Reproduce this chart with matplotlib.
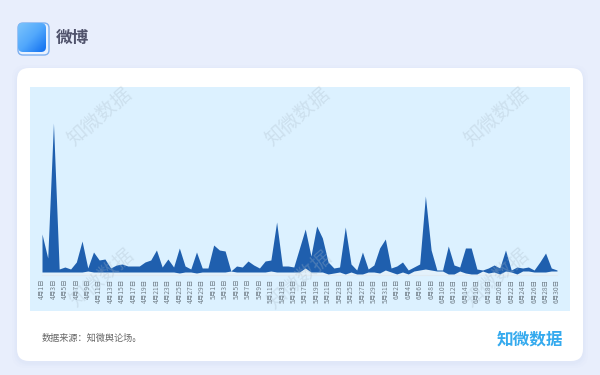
import numpy as np
import pandas as pd
from matplotlib import pyplot as plt
from matplotlib.patches import FancyBboxPatch
from matplotlib.colors import LinearSegmentedColormap

plt.rcParams['font.family'] = ['Noto Sans CJK SC', 'DejaVu Sans']

# datos (altura en px sobre el eje)
dates = pd.date_range('2023-04-01', periods=91)
labels = [f"{d.month}月{d.day}日" for d in dates]

total = [41, 17, 152, 6, 8, 6, 13, 34, 7, 23, 15, 16, 7, 10, 11, 9, 9, 9, 13, 15,
         25, 8, 16, 8, 27, 9, 6, 23, 7, 7, 30, 25, 24, 4, 9, 8, 14, 10, 7, 14,
         15, 53, 9, 9, 8, 27, 46, 19, 49, 37, 13, 7, 8, 48, 11, 5, 23, 6, 10, 27,
         36, 7, 9, 13, 5, 8, 11, 79, 25, 5, 5, 29, 10, 8, 27, 27, 6, 5, 7, 10,
         7, 25, 5, 8, 7, 8, 5, 13, 22, 7, 5]
lower = [3, 3, 3, 3, 3, 3, 3, 3, 4, 3, 3, 3, 3, 3, 3, 3, 3, 3, 3, 3,
         3, 3, 3, 3, 2, 3, 3, 2, 3, 3, 3, 3, 3, 4, 3, 3, 3, 3, 3, 3,
         4, 3, 3, 3, 3, 3, 7, 3, 3, 3, 1, 2, 3, 1, 3, 1, 1, 3, 3, 2,
         5, 3, 1, 3, 1, 4, 5, 6, 5, 4, 4, 1, 1, 4, 2, 1, 1, 4, 2, 3,
         1, 4, 3, 1, 4, 4, 3, 3, 3, 4, 4]

x = np.arange(len(total))

fig = plt.figure(figsize=(6, 3.75), dpi=100, facecolor='#e8eefc')

# capa de fondo en pixeles
bg = fig.add_axes([0, 0, 1, 1])
bg.set_xlim(0, 600)
bg.set_ylim(375, 0)
bg.axis('off')

for off, a in [(5, 0.04), (3, 0.05), (1.5, 0.06)]:
    bg.add_patch(FancyBboxPatch((17 - off, 68 - off + 2), 566 + 2 * off, 293 + 2 * off,
                                boxstyle="round,pad=0,rounding_size=14", fc='#b8c6e8', ec='none', alpha=a))
bg.add_patch(FancyBboxPatch((17, 68), 566, 293, boxstyle="round,pad=0,rounding_size=12", fc='white', ec='none'))
bg.add_patch(plt.Rectangle((30, 87), 540, 224, fc='#dcf1ff', ec='none'))

# icono
bg.add_patch(FancyBboxPatch((18, 23), 31, 32, boxstyle="round,pad=0,rounding_size=5",
                            fc='#eaf2fe', ec='#7fb0f0', lw=1))
grad = np.linspace(0, 1, 64)
gx, gy = np.meshgrid(grad, grad)
cmap_icon = LinearSegmentedColormap.from_list('ic', ['#7cc4fb', '#52a8fc', '#0f6ef0'])
img = bg.imshow(gx + gy, extent=(18, 46, 52, 23), cmap=cmap_icon, aspect='auto', zorder=3)
clip = FancyBboxPatch((18, 23), 28, 29, boxstyle="round,pad=0,rounding_size=5", fc='none', ec='none',
                      transform=bg.transData)
bg.add_patch(clip)
img.set_clip_path(clip)
bg.set_xlim(0, 600)
bg.set_ylim(375, 0)

bg.text(55.5, 38, "微博", fontsize=12, color='#50536c', fontweight='bold', va='center', ha='left')
bg.text(42, 338, "数据来源：知微舆论场。", fontsize=6.6, color='#666666', va='center', ha='left')
bg.text(530, 339, "知微数据", fontsize=12, color='#35aaee', fontweight='bold', va='center', ha='center')

# grafico
ax = fig.add_axes([30 / 600, 1 - 275 / 375, 540 / 600, 188 / 375])
ax.patch.set_alpha(0)
ax.set_xlim(-12 / 5.72, 90 + 13 / 5.72)
ax.set_ylim(0, 188)
ax.fill_between(x, 0, lower, color='#e3f1fb', lw=0)
ax.fill_between(x, lower, total, color='#1f5fae', lw=0)
ax.set_yticks([])
ax.set_xticks(x[::2])
ax.set_xticklabels(labels[::2], rotation=90, fontsize=4.8, color='#74818b')
ax.tick_params(axis='x', length=0, pad=2.5)
for s in ['top', 'left', 'right']:
    ax.spines[s].set_visible(False)
ax.spines['bottom'].set_color('#dfeaf2')
ax.spines['bottom'].set_bounds(0, 90)

# marcas de agua
for wx, wy in [(100, 117), (298, 117), (497, 117), (102, 278), (300, 280), (497, 278)]:
    fig.text(wx / 600, 1 - wy / 375, "知微数据", fontsize=14, color='#a9b9c6', alpha=0.3,
             rotation=41, ha='center', va='center', zorder=10)

fig.savefig('out.png', dpi=100)
